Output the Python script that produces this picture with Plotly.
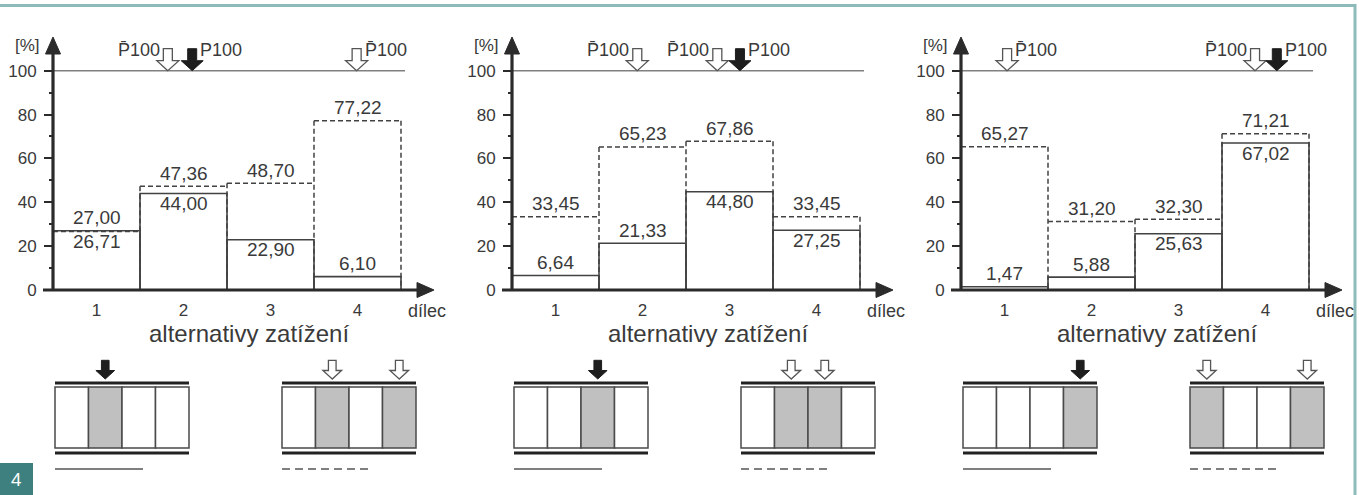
import plotly.graph_objects as go

# ---------------- data ----------------
categories = [1, 2, 3, 4]
tick_labels = ["1", "2", "3", "4"]
y_tick_vals = [0, 20, 40, 60, 80, 100]
y_tick_labels = ["0", "20", "40", "60", "80", "100"]
y_minor_vals = [10, 30, 50, 70, 90]

solid_p1 = [27.00, 44.00, 22.90, 6.10]
dashed_p1 = [26.71, 47.36, 48.70, 77.22]
solid_p2 = [6.64, 21.33, 44.80, 27.25]
dashed_p2 = [33.45, 65.23, 67.86, 33.45]
solid_p3 = [1.47, 5.88, 25.63, 67.02]
dashed_p3 = [65.27, 31.20, 32.30, 71.21]

limit_value = 100

# positions (in member units) of the maxima P100 marked by arrows
open_arrow_x = [[1.82, 3.99], [1.94, 2.86], [1.03, 3.88]]
open_label_side = [["left", "right"], ["left", "left"], ["right", "left"]]
filled_arrow_x = [2.10, 3.12, 4.13]

# load cases: loaded members (solid = full load, dashed = alternative)
solid_case_loaded = [[2], [3], [4]]
dashed_case_loaded = [[2, 4], [2, 3], [1, 4]]

y_unit = "[%]"
x_unit = "dílec"
x_title = "alternativy zatížení"
open_label = "P\u0304100"
filled_label = "P100"

# ---------------- geometry / style ----------------
W, H = 1359, 495
KX, KY = 87.0, 2.193          # px per member, px per percent
Y0 = 290.0                    # pixel row of value 0
AXIS_PX = [53.0, 512.0, 961.0]
DOM_PX = [(0, 453), (453, 906), (906, 1359)]

TXT = "#3a3a3a"
AX = "#2b2b2b"
LN = "#424242"
LIMIT = "#808080"
CELL_GRAY = "#c0c0c0"
FONT = "Liberation Sans, Arial, Helvetica, sans-serif"

panels = [(solid_p1, dashed_p1), (solid_p2, dashed_p2), (solid_p3, dashed_p3)]


def fmt(v):
    return f"{v:.2f}".replace(".", ",")


def arrow_path(xc, ytip, s=1.0):
    pts = [(0, 0), (-11, 10), (-4.5, 10), (-4.5, 22), (4.5, 22), (4.5, 10), (11, 10)]
    return "M " + " L ".join(
        f"{xc + dx * s / KX:.5f},{ytip + dy * s / KY:.5f}" for dx, dy in pts) + " Z"


fig = go.Figure()
shapes = []
annotations = []
layout_axes = {}

for p, (solid, dashed) in enumerate(panels):
    s = "" if p == 0 else str(p + 1)
    xref, yref = "x" + s, "y" + s
    ax_px = AXIS_PX[p]
    d0, d1 = DOM_PX[p]
    x_ax = categories[0] - 0.5  # y-axis position in member units

    def vx(off_px):
        return x_ax + off_px / KX

    def vy(row_px):
        return (Y0 - row_px) / KY

    # dashed outlines (alternative load)
    xs, ys = [], []
    for c, v in zip(categories, dashed):
        xs += [c - 0.5, c + 0.5, None]
        ys += [v, v, None]
    edges = [categories[0] - 0.5] + [c + 0.5 for c in categories]
    for k, e in enumerate(edges):
        left = dashed[k - 1] if k > 0 else 0
        right = dashed[k] if k < len(dashed) else 0
        xs += [e, e, None]
        ys += [max(left, right), 0, None]
    fig.add_trace(go.Scatter(x=xs, y=ys, mode="lines",
                             line=dict(color=LN, width=1.5, dash="5px,3px"),
                             xaxis=xref, yaxis=yref, hoverinfo="skip",
                             showlegend=False))
    # solid bars (full load)
    fig.add_trace(go.Bar(x=categories, y=solid, width=1.0,
                         marker=dict(color="rgba(0,0,0,0)",
                                     line=dict(color=LN, width=1.6)),
                         xaxis=xref, yaxis=yref, hoverinfo="skip",
                         showlegend=False))

    # value labels
    for c, sv, dv in zip(categories, solid, dashed):
        d_above = dv >= sv
        s_above = (sv > dv) or (sv < 22)
        annotations.append(dict(x=c, y=dv, xref=xref, yref=yref, text=fmt(dv),
                                showarrow=False, yanchor="middle",
                                yshift=13 if d_above else -10,
                                font=dict(family=FONT, size=19, color=TXT)))
        annotations.append(dict(x=c, y=sv, xref=xref, yref=yref, text=fmt(sv),
                                showarrow=False, yanchor="middle",
                                yshift=13 if s_above else -10,
                                font=dict(family=FONT, size=19, color=TXT)))

    # 100 % limit line
    shapes.append(dict(type="line", xref=xref, yref=yref, x0=x_ax,
                       x1=categories[-1] + 0.5 + 4 / KX, y0=limit_value,
                       y1=limit_value, line=dict(color=LIMIT, width=1.6)))

    # axes with arrows
    shapes.append(dict(type="line", xref=xref, yref=yref, x0=x_ax, x1=x_ax,
                       y0=0, y1=vy(52), line=dict(color=AX, width=3.2)))
    shapes.append(dict(type="path", xref=xref, yref=yref,
                       path=f"M {x_ax:.5f},{vy(37):.5f} L {vx(-7.5):.5f},{vy(54):.5f} "
                            f"L {vx(7.5):.5f},{vy(54):.5f} Z",
                       fillcolor=AX, line=dict(color=AX, width=1)))
    shapes.append(dict(type="line", xref=xref, yref=yref, x0=vx(-10), x1=vx(367),
                       y0=0, y1=0, line=dict(color=AX, width=3.2)))
    shapes.append(dict(type="path", xref=xref, yref=yref,
                       path=f"M {vx(381):.5f},0 L {vx(364):.5f},{7.5 / KY:.5f} "
                            f"L {vx(364):.5f},{-7.5 / KY:.5f} Z",
                       fillcolor=AX, line=dict(color=AX, width=1)))

    # P100 arrows on the limit line
    for xa, side in zip(open_arrow_x[p], open_label_side[p]):
        shapes.append(dict(type="path", xref=xref, yref=yref,
                           path=arrow_path(xa, limit_value),
                           fillcolor="white", line=dict(color="#555555", width=1.3)))
        annotations.append(dict(x=xa, y=limit_value + 20.5 / KY, xref=xref, yref=yref,
                                text=open_label, showarrow=False,
                                xanchor="right" if side == "left" else "left",
                                xshift=-6 if side == "left" else 6,
                                yanchor="middle",
                                font=dict(family=FONT, size=18, color=TXT)))
    xf = filled_arrow_x[p]
    shapes.append(dict(type="path", xref=xref, yref=yref,
                       path=arrow_path(xf, limit_value),
                       fillcolor="#1e1e1e", line=dict(color="#1e1e1e", width=1)))
    annotations.append(dict(x=xf, y=limit_value + 20.5 / KY, xref=xref, yref=yref,
                            text=filled_label, showarrow=False, xanchor="left",
                            xshift=6, yanchor="middle",
                            font=dict(family=FONT, size=18, color=TXT)))

    # axis captions
    annotations.append(dict(x=x_ax, y=vy(45), xref=xref, yref=yref, text=y_unit,
                            showarrow=False, xanchor="right", xshift=-11,
                            yanchor="middle",
                            font=dict(family=FONT, size=17, color=TXT)))
    annotations.append(dict(x=vx(374), y=vy(311), xref=xref, yref=yref, text=x_unit,
                            showarrow=False, xanchor="center", yanchor="middle",
                            font=dict(family=FONT, size=18, color=TXT)))
    annotations.append(dict(x=vx(196), y=vy(333), xref=xref, yref=yref, text=x_title,
                            showarrow=False, xanchor="center", yanchor="middle",
                            font=dict(family=FONT, size=24, color=TXT)))

    # load-case schemes
    cell_w = 33.5
    for off, loaded, filled in ((2, solid_case_loaded[p], True),
                                (229, dashed_case_loaded[p], False)):
        xl = vx(off)
        xr = vx(off + cell_w * len(categories))
        for k, c in enumerate(categories):
            shapes.append(dict(type="rect", xref=xref, yref=yref,
                               x0=vx(off + cell_w * k), x1=vx(off + cell_w * (k + 1)),
                               y0=vy(448), y1=vy(387),
                               fillcolor=CELL_GRAY if c in loaded else "white",
                               line=dict(color="#4a4a4a", width=1.5)))
        shapes.append(dict(type="line", xref=xref, yref=yref, x0=xl, x1=xr,
                           y0=vy(383), y1=vy(383), line=dict(color="#222222", width=3)))
        shapes.append(dict(type="line", xref=xref, yref=yref, x0=xl, x1=xr,
                           y0=vy(453), y1=vy(453), line=dict(color="#222222", width=3)))
        for c in loaded:
            xc = vx(off + cell_w * (c - 0.5))
            shapes.append(dict(type="path", xref=xref, yref=yref,
                               path=arrow_path(xc, vy(379), 0.85),
                               fillcolor="#1e1e1e" if filled else "white",
                               line=dict(color="#1e1e1e" if filled else "#555555",
                                         width=1 if filled else 1.3)))
        shapes.append(dict(type="line", xref=xref, yref=yref, x0=xl, x1=vx(off + 88),
                           y0=vy(469), y1=vy(469),
                           line=dict(color="#555555", width=1.5,
                                     dash="solid" if filled else "8px,5px")))

    layout_axes["xaxis" + s] = dict(
        domain=[d0 / W, d1 / W],
        range=[x_ax - (ax_px - d0) / KX, x_ax + (d1 - ax_px) / KX],
        anchor="free", position=1 - Y0 / H,
        tickmode="array", tickvals=categories, ticktext=tick_labels,
        ticks="", showline=False, showgrid=False, zeroline=False,
        ticklabelstandoff=8,
        tickfont=dict(family=FONT, size=17, color=TXT), fixedrange=True)
    layout_axes["yaxis" + s] = dict(
        domain=[0, 1], range=[-(H - Y0) / KY, Y0 / KY],
        anchor="free", position=ax_px / W,
        tickmode="array", tickvals=y_tick_vals, ticktext=y_tick_labels,
        ticks="outside", ticklen=9, tickwidth=2, tickcolor=AX,
        minor=dict(tickvals=y_minor_vals, ticks="outside", ticklen=4,
                   tickwidth=2, tickcolor=AX),
        showline=False, showgrid=False, zeroline=False,
        ticklabelstandoff=4,
        tickfont=dict(family=FONT, size=17, color=TXT), fixedrange=True)

# frame decoration
shapes.append(dict(type="line", xref="paper", yref="paper", x0=0, x1=1355 / W,
                   y0=1 - 5.5 / H, y1=1 - 5.5 / H, line=dict(color="#8dbbba", width=3)))
shapes.append(dict(type="line", xref="paper", yref="paper", x0=1355 / W, x1=1355 / W,
                   y0=1 - 4 / H, y1=0, line=dict(color="#8dbbba", width=3)))
shapes.append(dict(type="rect", xref="paper", yref="paper", x0=0, x1=33 / W,
                   y0=0, y1=32 / H, fillcolor="#3e807f", line=dict(width=0)))
annotations.append(dict(x=16 / W, y=16 / H, xref="paper", yref="paper", text="4",
                        showarrow=False, xanchor="center", yanchor="middle",
                        font=dict(family="Noto Sans, DejaVu Sans, sans-serif",
                                  size=18, color="white")))

fig.update_layout(
    width=W, height=H, autosize=False,
    margin=dict(l=0, r=0, t=0, b=0, pad=0),
    paper_bgcolor="white", plot_bgcolor="white",
    showlegend=False, bargap=0,
    shapes=shapes, annotations=annotations,
    **layout_axes,
)

fig.write_html("out.html", config={"displayModeBar": False, "staticPlot": True},
               post_script="document.body.style.margin='0';document.body.style.overflow='hidden';")
